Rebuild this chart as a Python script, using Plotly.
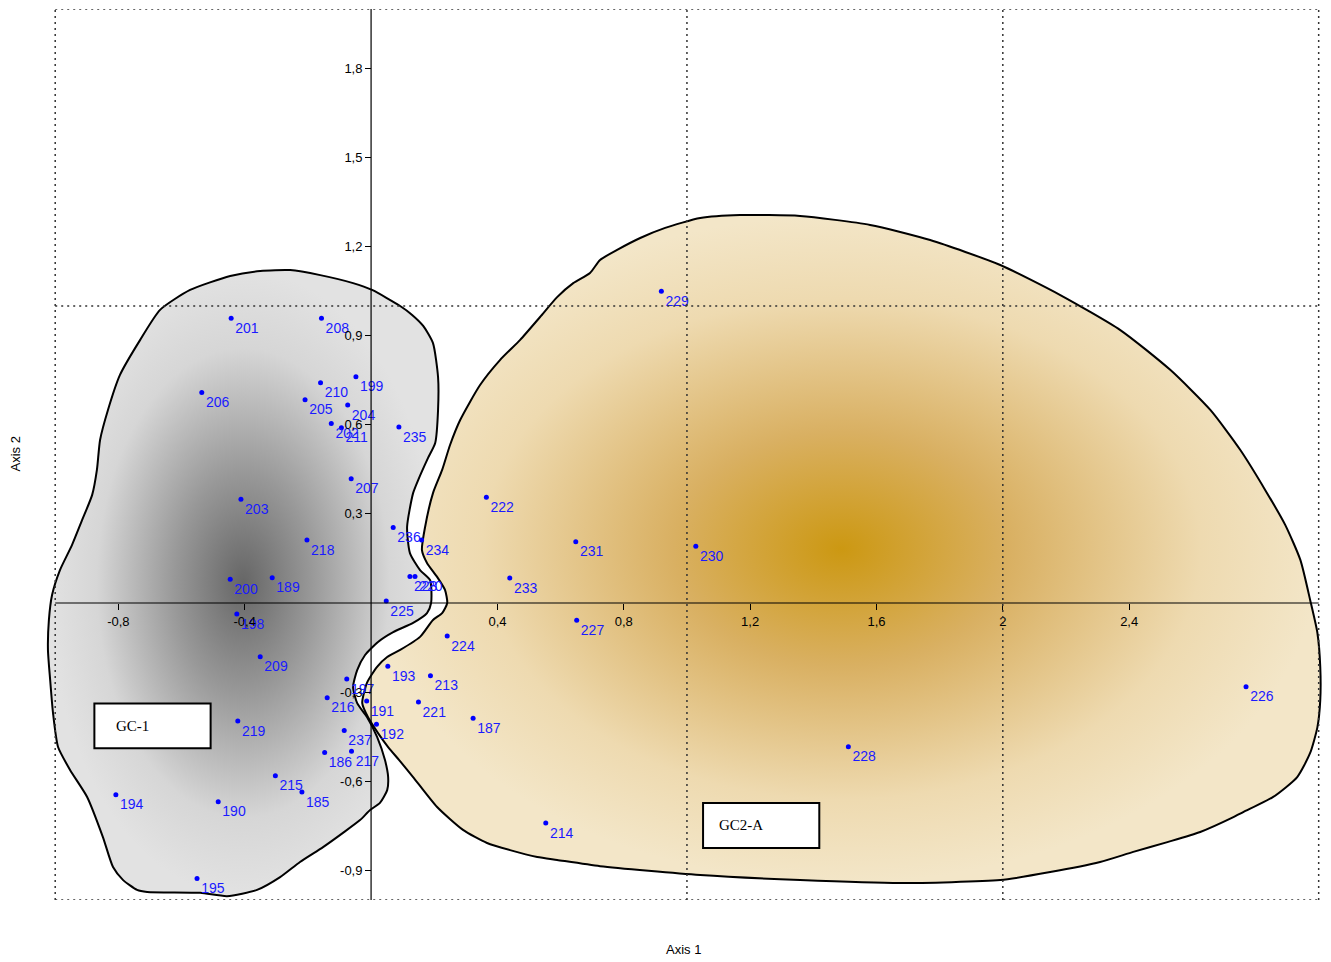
import plotly.graph_objects as go

# ---------------- data ----------------
labels = ["201", "208", "206", "210", "199", "205", "204", "202", "211", "235",
          "207", "203", "218", "236", "234", "200", "189", "223", "220", "225",
          "198", "209", "197", "216", "191", "193", "213", "221", "219", "192",
          "237", "186", "217", "215", "185", "194", "190", "195",
          "222", "231", "233", "227", "224", "187", "214", "229", "230", "228", "226"]
axis1 = [-0.443, -0.157, -0.536, -0.160, -0.048, -0.209, -0.074, -0.126, -0.094, 0.088,
         -0.063, -0.412, -0.203, 0.070, 0.160, -0.446, -0.313, 0.123, 0.139, 0.048,
         -0.425, -0.351, -0.077, -0.139, -0.014, 0.053, 0.188, 0.150, -0.422, 0.017,
         -0.085, -0.147, -0.062, -0.303, -0.219, -0.808, -0.484, -0.551,
         0.365, 0.648, 0.439, 0.651, 0.241, 0.323, 0.553, 0.919, 1.028, 1.511, 2.770]
axis2 = [0.959, 0.959, 0.709, 0.742, 0.762, 0.684, 0.667, 0.604, 0.590, 0.593,
         0.418, 0.349, 0.212, 0.254, 0.212, 0.080, 0.085, 0.089, 0.089, 0.007,
         -0.037, -0.181, -0.256, -0.319, -0.330, -0.213, -0.245, -0.333, -0.397, -0.408,
         -0.429, -0.503, -0.499, -0.582, -0.636, -0.646, -0.669, -0.928,
         0.356, 0.206, 0.084, -0.058, -0.111, -0.388, -0.741, 1.050, 0.191, -0.484, -0.282]

gc1_x = [-0.668, -0.573, -0.446, -0.351, -0.256, -0.161, -0.057, 0.003, 0.092, 0.130,
         0.165, 0.196, 0.212, 0.212, 0.203, 0.180, 0.149, 0.133, 0.114, 0.123,
         0.155, 0.187, 0.190, 0.177, 0.133, 0.070, 0.022, -0.019, -0.044, -0.057,
         -0.044, -0.013, 0.019, 0.044, 0.054, 0.051, 0.028, -0.003, -0.035, -0.089,
         -0.152, -0.225, -0.288, -0.361, -0.456, -0.541, -0.709, -0.741, -0.785, -0.817,
         -0.849, -0.899, -0.953, -0.991, -1.007, -1.016, -1.023, -1.020, -1.010, -0.985,
         -0.947, -0.915, -0.883, -0.868, -0.858, -0.833, -0.795, -0.731, -0.668]
gc1_y = [0.987, 1.054, 1.101, 1.118, 1.121, 1.104, 1.077, 1.054, 1.000, 0.970,
         0.933, 0.875, 0.761, 0.650, 0.539, 0.488, 0.414, 0.370, 0.256, 0.168,
         0.111, 0.077, 0.000, -0.034, -0.067, -0.098, -0.131, -0.175, -0.226, -0.283,
         -0.337, -0.384, -0.451, -0.529, -0.586, -0.630, -0.673, -0.697, -0.731, -0.774,
         -0.822, -0.872, -0.923, -0.966, -0.987, -0.976, -0.973, -0.966, -0.933, -0.889,
         -0.788, -0.653, -0.562, -0.485, -0.370, -0.259, -0.158, -0.057, 0.027, 0.111,
         0.195, 0.279, 0.364, 0.448, 0.549, 0.650, 0.768, 0.886, 0.987]

gc2_x = [1.168, 1.358, 1.580, 1.770, 1.992, 2.182, 2.372, 2.530, 2.657, 2.752,
         2.831, 2.894, 2.942, 2.973, 2.996, 3.005, 3.005, 2.996, 2.973, 2.932,
         2.856, 2.761, 2.730, 2.625, 2.521, 2.413, 2.308, 2.150, 1.992, 1.675,
         1.358, 1.042, 0.725, 0.589, 0.526, 0.440, 0.367, 0.291, 0.209, 0.133,
         0.089, 0.054, 0.022, -0.010, -0.028, -0.013, 0.019, 0.051, 0.092, 0.155,
         0.196, 0.225, 0.241, 0.234, 0.209, 0.177, 0.161, 0.171, 0.196, 0.225,
         0.250, 0.282, 0.345, 0.408, 0.472, 0.535, 0.589, 0.640, 0.693, 0.725,
         0.779, 0.852, 0.931, 1.042, 1.168]
gc2_y = [1.306, 1.303, 1.273, 1.222, 1.138, 1.037, 0.919, 0.785, 0.650, 0.515,
         0.380, 0.263, 0.145, 0.010, -0.101, -0.215, -0.327, -0.418, -0.505, -0.586,
         -0.653, -0.704, -0.721, -0.771, -0.805, -0.838, -0.872, -0.906, -0.933, -0.943,
         -0.933, -0.916, -0.886, -0.865, -0.855, -0.832, -0.808, -0.764, -0.687, -0.586,
         -0.529, -0.485, -0.438, -0.384, -0.337, -0.269, -0.215, -0.182, -0.158, -0.114,
         -0.057, -0.034, 0.000, 0.044, 0.088, 0.135, 0.178, 0.256, 0.370, 0.448,
         0.532, 0.616, 0.734, 0.818, 0.886, 0.963, 1.030, 1.077, 1.111, 1.155,
         1.189, 1.229, 1.263, 1.296, 1.306]

x_tickvals = [-0.8, -0.4, 0.4, 0.8, 1.2, 1.6, 2.0, 2.4]
x_ticktext = ["-0,8", "-0,4", "0,4", "0,8", "1,2", "1,6", "2", "2,4"]
y_tickvals = [-0.9, -0.6, -0.3, 0.3, 0.6, 0.9, 1.2, 1.5, 1.8]
y_ticktext = ["-0,9", "-0,6", "-0,3", "0,3", "0,6", "0,9", "1,2", "1,5", "1,8"]

grid_x = [-1, 1, 2, 3]
grid_y = [-1, 1, 2]
group_names = ["GC-1", "GC2-A"]
group_box_x = [(-0.876, -0.508), (1.051, 1.419)]
group_box_y = [(-0.489, -0.338), (-0.825, -0.673)]

X_RANGE = [-1.045, 3.02]
Y_RANGE = [-1.0, 2.0]

SANS = "Liberation Sans, Arial, sans-serif"

fig = go.Figure()

fig.add_trace(go.Scatter(
    x=gc1_x, y=gc1_y, mode="lines", fill="toself",
    line=dict(color="black", width=2, shape="spline", smoothing=0.6),
    fillgradient=dict(type="radial",
                      colorscale=[[0, "#666666"], [0.35, "#989898"], [0.75, "#d6d6d6"], [1, "#e2e2e2"]]),
    hoverinfo="skip", showlegend=False))

fig.add_trace(go.Scatter(
    x=gc2_x, y=gc2_y, mode="lines", fill="toself",
    line=dict(color="black", width=2, shape="spline", smoothing=0.6),
    fillgradient=dict(type="radial",
                      colorscale=[[0, "#cc9812"], [0.35, "#d9b062"], [0.75, "#eedab0"], [1, "#f3e6c8"]]),
    hoverinfo="skip", showlegend=False))

fig.add_trace(go.Scatter(
    x=axis1, y=axis2, mode="markers+text", text=labels,
    textposition="bottom right",
    marker=dict(color="#0000ff", size=5),
    textfont=dict(color="#1a1aff", size=14, family=SANS),
    hoverinfo="text", showlegend=False))

shapes = []
for gx in grid_x:
    shapes.append(dict(type="line", xref="x", yref="y", x0=gx, x1=gx, y0=-1, y1=2,
                       line=dict(color="#333333", width=1.5, dash="2px,4px"), layer="above"))
for gy in grid_y:
    shapes.append(dict(type="line", xref="x", yref="y", x0=-1, x1=3, y0=gy, y1=gy,
                       line=dict(color="#333333", width=1.5, dash="2px,4px"), layer="above"))
# main axes lines
shapes.append(dict(type="line", xref="x", yref="y", x0=-1, x1=3, y0=0, y1=0,
                   line=dict(color="black", width=1.2), layer="above"))
shapes.append(dict(type="line", xref="x", yref="y", x0=0, x1=0, y0=-1, y1=2,
                   line=dict(color="black", width=1.2), layer="above"))
for (bx0, bx1), (by0, by1) in zip(group_box_x, group_box_y):
    shapes.append(dict(type="rect", xref="x", yref="y", x0=bx0, x1=bx1, y0=by0, y1=by1,
                       fillcolor="white", line=dict(color="black", width=2), layer="above"))

annotations = []
for name, (bx0, bx1), (by0, by1) in zip(group_names, group_box_x, group_box_y):
    annotations.append(dict(x=bx0 + (bx1 - bx0) * 0.33, y=(by0 + by1) / 2, xref="x", yref="y",
                            text=name, showarrow=False, xanchor="center", yanchor="middle",
                            font=dict(family="Liberation Serif, Times New Roman, serif", size=15, color="black")))
annotations.append(dict(x=0.5, y=-1.0, xref="x domain", yref="y", yshift=-49, text="Axis 1",
                        showarrow=False, xanchor="center", yanchor="middle",
                        font=dict(family=SANS, size=13, color="black")))
annotations.append(dict(x=0, y=0.5, xref="paper", yref="y domain", xshift=-26, text="Axis 2",
                        textangle=-90, showarrow=False, xanchor="center", yanchor="middle",
                        font=dict(family=SANS, size=13, color="black")))

x_pos = (0 - Y_RANGE[0]) / (Y_RANGE[1] - Y_RANGE[0])
y_pos = (0 - X_RANGE[0]) / (X_RANGE[1] - X_RANGE[0])

fig.update_layout(
    width=1331, height=962,
    margin=dict(l=33, r=14, t=1, b=70),
    paper_bgcolor="white", plot_bgcolor="white",
    shapes=shapes, annotations=annotations,
    xaxis=dict(range=X_RANGE, anchor="free", position=x_pos, showgrid=False, zeroline=False,
               showline=False, ticks="outside", ticklen=6, tickcolor="black", tickwidth=1,
               tickvals=x_tickvals, ticktext=x_ticktext,
               tickfont=dict(family=SANS, size=13, color="black")),
    yaxis=dict(range=Y_RANGE, anchor="free", position=y_pos, showgrid=False, zeroline=False,
               showline=False, ticks="outside", ticklen=6, tickcolor="black", tickwidth=1,
               tickvals=y_tickvals, ticktext=y_ticktext,
               tickfont=dict(family=SANS, size=13, color="black")),
)

fig.write_html("out.html")
